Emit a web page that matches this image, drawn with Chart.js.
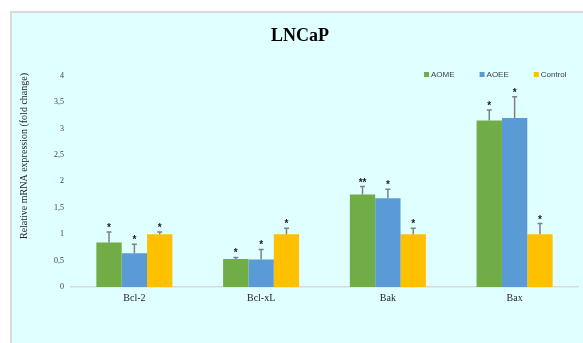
<!DOCTYPE html>
<html>
<head>
<meta charset="utf-8">
<script src="https://cdn.jsdelivr.net/npm/chart.js@4.4.1/dist/chart.umd.min.js"></script>
<style>
  body { margin: 0; background: #fff; overflow: hidden; }
  #panel {
    position: absolute; left: 10px; top: 11px; width: 620px; height: 400px;
    background: #e0ffff; border-left: 2px solid #d9d9d9; border-top: 2px solid #d9d9d9;
  }
  #chart { position: absolute; left: 0; top: 0; }
</style>
</head>
<body>
<div id="panel"></div>
<canvas id="chart" width="583" height="343"></canvas>
<script>
// values
const genes = ['Bcl-2', 'Bcl-xL', 'Bak', 'Bax'];
const seriesNames = ['AOME', 'AOEE', 'Control'];
const aome = [0.84, 0.53, 1.75, 3.15];
const aoee = [0.64, 0.52, 1.68, 3.20];
const control = [1, 1, 1, 1];
const aomeErr = [0.20, 0.03, 0.15, 0.20];
const aoeeErr = [0.17, 0.19, 0.17, 0.40];
const controlErr = [0.04, 0.11, 0.11, 0.20];
const aomeSig = ['*', '*', '**', '*'];
const aoeeSig = ['*', '*', '*', '*'];
const controlSig = ['*', '*', '*', '*'];
const yTicks = [0, 0.5, 1, 1.5, 2, 2.5, 3, 3.5, 4];

const colors = ['#70ad47', '#5b9bd5', '#ffc000'];
const errs = [aomeErr, aoeeErr, controlErr];
const sigs = [aomeSig, aoeeSig, controlSig];

// error bars, stars, title, y title and legend
const extras = {
  id: 'extras',
  afterDatasetsDraw(chart) {
    const ctx = chart.ctx;
    const y = chart.scales.y;
    ctx.save();
    chart.data.datasets.forEach((ds, d) => {
      const meta = chart.getDatasetMeta(d);
      meta.data.forEach((bar, i) => {
        const v = ds.data[i];
        const top = y.getPixelForValue(v + errs[d][i]);
        const base = y.getPixelForValue(v);
        ctx.strokeStyle = '#808080';
        ctx.lineWidth = 1.5;
        ctx.beginPath();
        ctx.moveTo(bar.x, base);
        ctx.lineTo(bar.x, top);
        ctx.moveTo(bar.x - 2.5, top);
        ctx.lineTo(bar.x + 2.5, top);
        ctx.stroke();
        ctx.fillStyle = '#1a1a1a';
        ctx.font = 'bold 10px "Liberation Sans"';
        ctx.textAlign = 'center';
        ctx.textBaseline = 'alphabetic';
        ctx.fillText(sigs[d][i], bar.x, top - 1);
      });
    });
    ctx.restore();
  },
  afterDraw(chart) {
    const ctx = chart.ctx;
    ctx.save();
    ctx.fillStyle = '#000';
    ctx.font = 'bold 18px "Liberation Serif"';
    ctx.textAlign = 'center';
    ctx.textBaseline = 'middle';
    ctx.fillText('LNCaP', 300, 36);

    ctx.translate(24, 156);
    ctx.rotate(-Math.PI / 2);
    ctx.fillStyle = '#262626';
    ctx.font = '10px "Liberation Serif"';
    ctx.fillText('Relative mRNA expression (fold change)', 0, 0);
    ctx.restore();

    ctx.save();
    ctx.font = '8px "Liberation Sans"';
    ctx.textBaseline = 'middle';
    let x = 424;
    chart.data.datasets.forEach(ds => {
      ctx.fillStyle = ds.backgroundColor;
      ctx.fillRect(x, 72, 5, 5);
      ctx.fillStyle = '#404040';
      ctx.fillText(ds.label, x + 7, 74.5);
      x += 7 + ctx.measureText(ds.label).width + 25;
    });
    ctx.restore();
  }
};

new Chart(document.getElementById('chart'), {
  type: 'bar',
  data: {
    labels: genes,
    datasets: [
      { label: seriesNames[0], data: aome, backgroundColor: colors[0] },
      { label: seriesNames[1], data: aoee, backgroundColor: colors[1] },
      { label: seriesNames[2], data: control, backgroundColor: colors[2] }
    ]
  },
  options: {
    responsive: false,
    animation: false,
    devicePixelRatio: 1,
    layout: { padding: { top: 75.6, right: 5, bottom: 36, left: 0 } },
    datasets: { bar: { categoryPercentage: 0.6, barPercentage: 1.0 } },
    plugins: { legend: { display: false }, tooltip: { enabled: false } },
    scales: {
      x: {
        grid: { display: false, drawTicks: false },
        border: { display: true, color: '#d9d9d9', width: 1.5 },
        ticks: { color: '#262626', font: { family: 'Liberation Serif', size: 10 }, padding: 5 },
        afterFit: s => { s.height = 20; }
      },
      y: {
        min: 0, max: 4,
        grid: { display: false, drawTicks: false },
        border: { display: false },
        afterBuildTicks: s => { s.ticks = yTicks.map(v => ({ value: v })); },
        ticks: {
          color: '#404040', padding: 7,
          font: { family: 'Liberation Serif', size: 8 },
          callback: v => String(v).replace('.', ',')
        },
        afterFit: s => { s.width = 71; }
      }
    }
  },
  plugins: [extras]
});
</script>
</body>
</html>
